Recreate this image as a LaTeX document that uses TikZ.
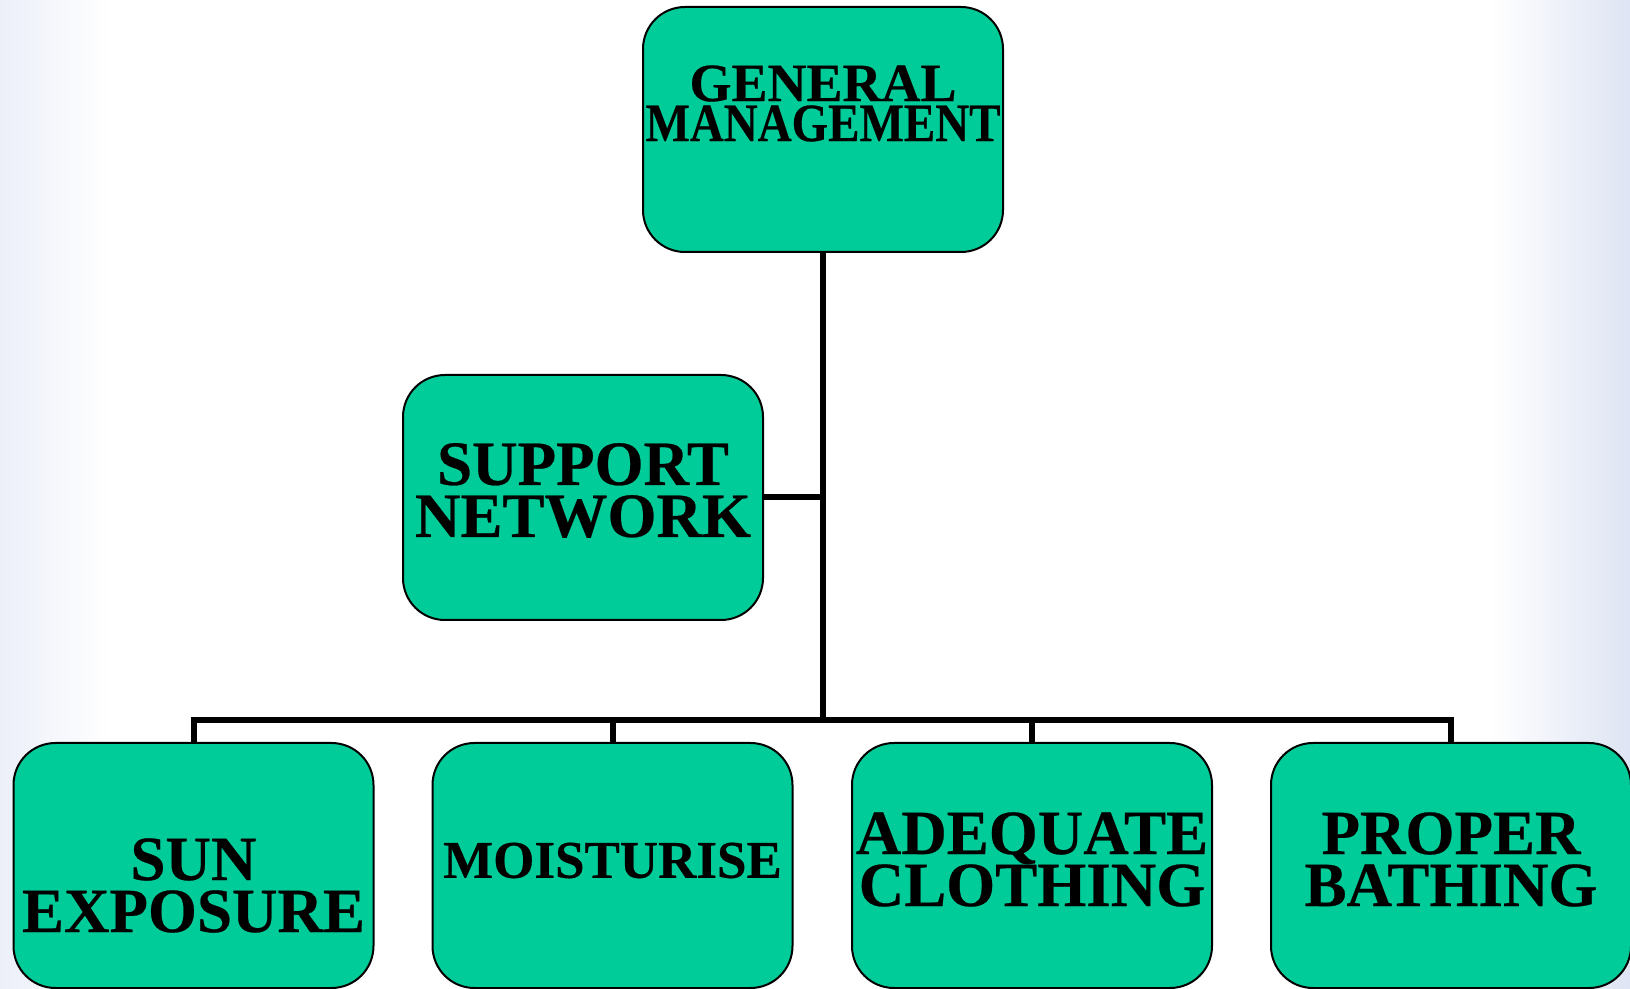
\documentclass[tikz,border=0pt]{standalone}
\usepackage{fontspec}
\usepackage{graphicx}
\setmainfont{Liberation Serif}[BoldFeatures={FakeBold=0.4}]
\definecolor{boxgreen}{RGB}{0,204,153}
\definecolor{bgL}{RGB}{236,239,249}
\definecolor{bgR}{RGB}{222,228,243}
\begin{document}
\begin{tikzpicture}[x=0.5pt,y=-0.5pt,
  box/.style={draw=black, line width=1pt, fill=boxgreen, rounded corners=21pt,
    minimum width=180pt, minimum height=122.5pt, inner sep=0pt},
  bigtxt/.style={font=\bfseries\fontsize{31.5}{26}\selectfont, align=center, inner sep=0pt},
  midtxt/.style={font=\bfseries\fontsize{27}{20}\selectfont, align=center, inner sep=0pt},
  moisttxt/.style={font=\bfseries\fontsize{26.5}{26.5}\selectfont, align=center, inner sep=0pt},
  conn/.style={draw=black, line width=3pt, line join=miter}]
\useasboundingbox (0,0) rectangle (1630,989);
\fill[white] (0,0) rectangle (1630,989);
\shade[left color=bgL, right color=white] (0,0) rectangle (110,989);
\shade[left color=white, right color=bgR] (1490,0) rectangle (1630,989);

% boxes
\node[box] (gm) at (823,129.5) {};
\node[box] (sn) at (583,497.5) {};
\node[box] (b1) at (193.5,865.5) {};
\node[box] (b2) at (612.5,865.5) {};
\node[box] (b3) at (1032,865.5) {};
\node[box] (b4) at (1451,865.5) {};

% texts
\node[midtxt] (tgm) at (823,103.5) {GENERAL\\\scalebox{0.87}[1]{MANAGEMENT}};
\node[bigtxt] (tsn) at (583,490.5) {SUPPORT\\NETWORK};
\node[bigtxt] (tb1) at (193.5,885.5) {SUN\\EXPOSURE};
\node[moisttxt] (tb2) at (612.5,860.5) {MOISTURISE};
\node[bigtxt] (tb3) at (1032,859.5) {ADEQUATE\\CLOTHING};
\node[bigtxt] (tb4) at (1451,859.5) {PROPER\\BATHING};

% connectors
\coordinate (hub) at (823,720);
\draw[conn] (gm.south) -- (hub);
\draw[conn] (sn.east) -- (sn.east -| hub);
\draw[conn] (b1.north) |- (hub) -| (b4.north);
\draw[conn] (b2.north) -- (b2.north |- hub);
\draw[conn] (b3.north) -- (b3.north |- hub);
\end{tikzpicture}
\end{document}
